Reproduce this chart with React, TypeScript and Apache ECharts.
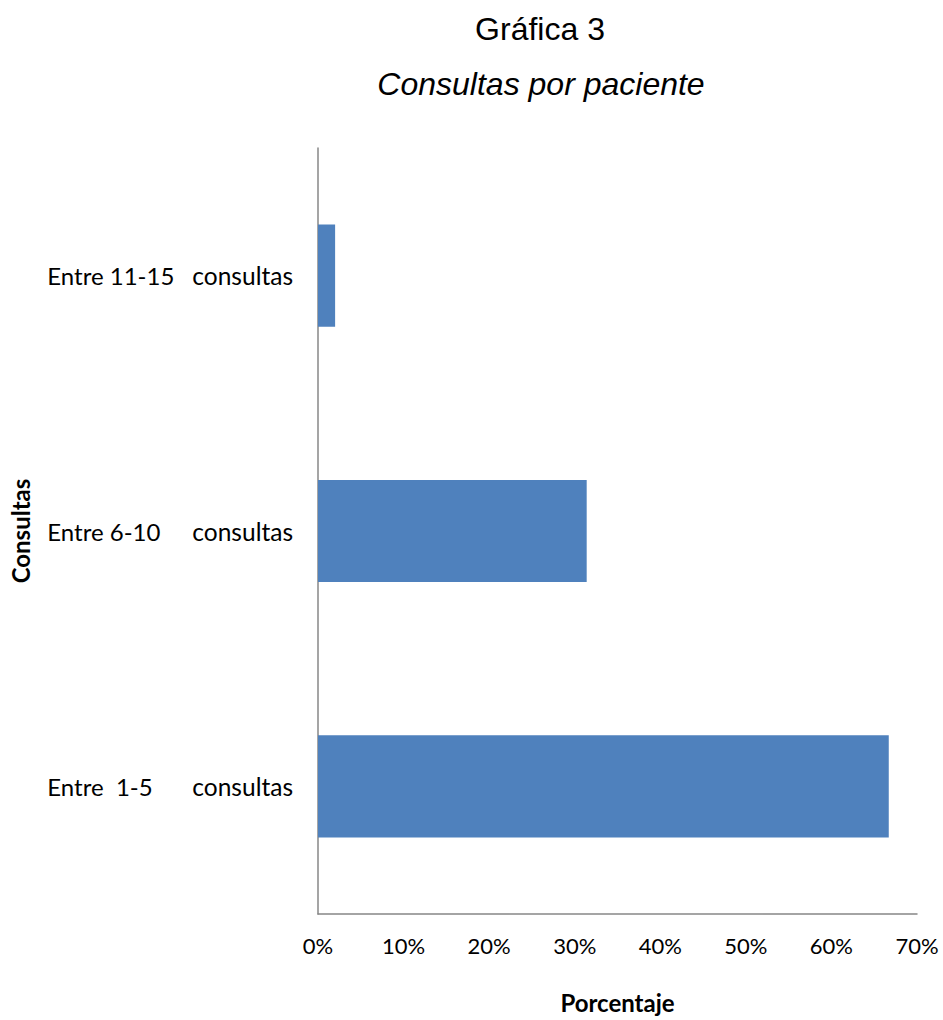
import React, { useEffect, useRef } from "react";
import * as echarts from "echarts";

// Consultation ranges (bottom to top) and share of patients, in percent
const ranges = ["Entre  1-5", "Entre 6-10", "Entre 11-15"];
const shares = [66.7, 31.4, 2.0];
const xTicks = [0, 10, 20, 30, 40, 50, 60, 70];

const titleText = "Gráfica 3";
const subtitleText = "Consultas por paciente";
const xName = "Porcentaje";
const yName = "Consultas";

export default function App() {
  const ref = useRef<HTMLDivElement>(null);

  useEffect(() => {
    if (!ref.current) return;
    const chart = echarts.init(ref.current, null, { renderer: "svg" });
    const step = xTicks[1] - xTicks[0];
    chart.setOption({
      animation: false,
      backgroundColor: "#ffffff",
      title: [
        {
          text: titleText,
          left: 535,
          top: 8,
          textAlign: "center",
          textStyle: {
            fontFamily: "Liberation Sans",
            fontSize: 32,
            fontWeight: "normal",
            color: "#000",
          },
        },
        {
          text: subtitleText,
          left: 536,
          top: 63,
          textAlign: "center",
          textStyle: {
            fontFamily: "Liberation Sans",
            fontSize: 32,
            fontStyle: "italic",
            fontWeight: "normal",
            color: "#000",
          },
        },
      ],
      grid: { left: 318, right: 26, top: 148, bottom: 106, containLabel: false },
      xAxis: {
        type: "value",
        min: xTicks[0],
        max: xTicks[xTicks.length - 1],
        interval: step,
        name: xName,
        nameLocation: "middle",
        nameGap: 76,
        nameTextStyle: {
          fontFamily: "Lato",
          fontWeight: "bold",
          fontSize: 24,
          color: "#000",
        },
        axisLine: { show: true, lineStyle: { color: "#878787", width: 1.5 } },
        axisTick: { show: false },
        splitLine: { show: false },
        axisLabel: {
          formatter: "{value}%",
          margin: 20,
          fontFamily: "Lato",
          fontSize: 22,
          color: "#000",
        },
      },
      yAxis: {
        type: "category",
        data: ranges,
        name: yName,
        nameLocation: "middle",
        nameGap: 286,
        nameRotate: 90,
        nameTextStyle: {
          fontFamily: "Lato",
          fontWeight: "bold",
          fontSize: 24,
          color: "#000",
        },
        axisLine: { show: true, lineStyle: { color: "#878787", width: 1.5 } },
        axisTick: { show: false },
        splitLine: { show: false },
        axisLabel: {
          margin: 25,
          formatter: (v: string) => `{r|${v}}{c|consultas}`,
          rich: {
            r: {
              width: 145,
              align: "left",
              fontFamily: "Lato",
              fontSize: 24,
              color: "#000",
            },
            c: {
              fontFamily: "Lato",
              fontSize: 24.5,
              color: "#000",
            },
          },
        },
      },
      series: [
        {
          type: "bar",
          data: shares,
          barCategoryGap: "60%",
          itemStyle: { color: "#4F81BD" },
        },
      ],
    });
    return () => chart.dispose();
  }, []);

  return (
    <div
      ref={ref}
      style={{ position: "absolute", left: 0, top: 0, width: 943, height: 1020 }}
    />
  );
}
